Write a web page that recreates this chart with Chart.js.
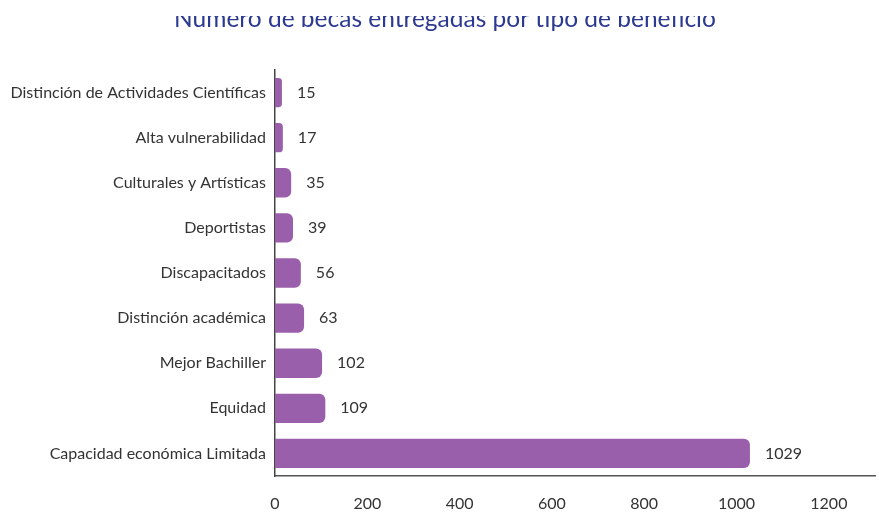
<!DOCTYPE html>
<html>
<head>
<meta charset="utf-8">
<script src="https://cdn.jsdelivr.net/npm/chart.js@4"></script>
<style>
  html, body { margin: 0; padding: 0; background: #fff; }
  #wrap { width: 879px; height: 512px; position: relative; }
</style>
</head>
<body>
<div id="wrap"><canvas id="chart"></canvas></div>
<script>
const categories = [
  'Distinción de Actividades Científicas',
  'Alta vulnerabilidad',
  'Culturales y Artísticas',
  'Deportistas',
  'Discapacitados',
  'Distinción académica',
  'Mejor Bachiller',
  'Equidad',
  'Capacidad económica Limitada'
];
const becas = [15, 17, 35, 39, 56, 63, 102, 109, 1029];
const xTicks = [0, 200, 400, 600, 800, 1000, 1200];
const title = 'Número de becas entregadas por tipo de beneficio';

// etiquetas al final de cada barra + título recortado arriba
const labelsPlugin = {
  id: 'labels',
  afterDatasetsDraw(chart) {
    const ctx = chart.ctx;
    const meta = chart.getDatasetMeta(0);
    ctx.save();
    ctx.font = '16px Lato';
    ctx.fillStyle = '#333';
    ctx.textAlign = 'left';
    ctx.textBaseline = 'middle';
    meta.data.forEach((bar, i) => {
      ctx.fillText(becas[i], bar.x + 15, bar.y);
    });
    ctx.restore();
  },
  afterDraw(chart) {
    const ctx = chart.ctx;
    ctx.save();
    ctx.font = '24.5px Lato';
    ctx.fillStyle = '#2b3990';
    ctx.textAlign = 'center';
    ctx.textBaseline = 'alphabetic';
    ctx.fillText(title, 445, 27);
    ctx.fillStyle = '#fff';
    ctx.fillRect(0, 0, chart.width, 16);
    ctx.restore();
  }
};

new Chart(document.getElementById('chart'), {
  type: 'bar',
  data: {
    labels: categories,
    datasets: [{
      data: becas,
      backgroundColor: '#9a5fab',
      borderRadius: 6,
      barPercentage: 0.65,
      categoryPercentage: 1
    }]
  },
  options: {
    indexAxis: 'y',
    responsive: true,
    maintainAspectRatio: false,
    animation: false,
    layout: { padding: { top: 70, right: 4, left: 0, bottom: 0 } },
    plugins: {
      legend: { display: false },
      tooltip: { enabled: false },
      title: { display: false }
    },
    scales: {
      x: {
        min: 0,
        max: 1300,
        afterBuildTicks: scale => {
          scale.ticks = xTicks.map(v => ({ value: v }));
        },
        afterFit: scale => { scale.height = 36; },
        grid: { display: false, drawTicks: false },
        border: { display: true, color: '#555', width: 1.5 },
        ticks: {
          padding: 18,
          color: '#333',
          font: { family: 'Lato', size: 16 },
          callback: v => String(v)
        }
      },
      y: {
        afterFit: scale => { scale.width = 275; },
        grid: { display: false, drawTicks: false },
        border: { display: true, color: '#444', width: 1.5 },
        ticks: {
          padding: 9,
          color: '#333',
          font: { family: 'Lato', size: 16 }
        }
      }
    }
  },
  plugins: [labelsPlugin]
});
</script>
</body>
</html>
